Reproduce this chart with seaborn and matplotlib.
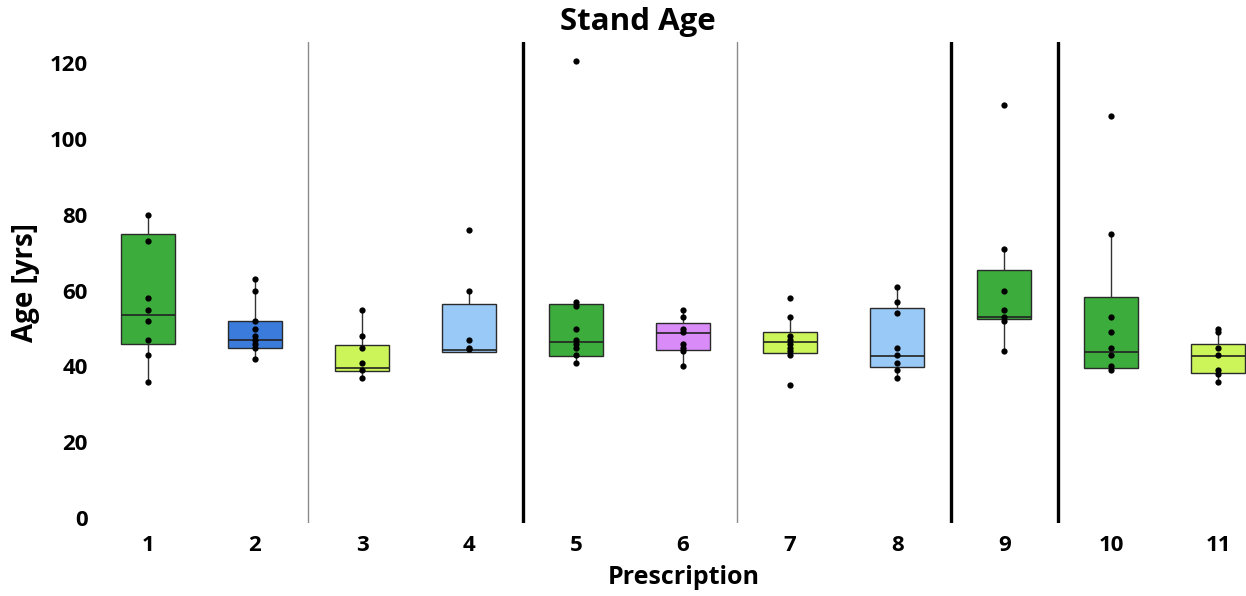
"""Stand Age por prescricao: boxplots com pontos individuais."""

import matplotlib
matplotlib.use("Agg")
import matplotlib.pyplot as plt
import pandas as pd
import seaborn as sns

# Prescricoes (eixo x)
PRESCRIPTIONS = ["1", "2", "3", "4", "5", "6", "7", "8", "9", "10", "11"]

# Idades individuais, uma lista por prescricao
AGES = [
    [80, 73, 58, 55, 52, 47, 43, 36],
    [63, 60, 52, 50, 48, 47, 46, 45, 42],
    [55, 48, 45, 41, 39, 37],
    [76, 60, 47, 45, 44.5],
    [120.5, 57, 56, 50, 47, 46, 45, 43, 41],
    [55, 53, 50, 49, 46, 45, 44, 40],
    [58, 53, 48, 47, 46, 45, 44, 43, 35],
    [61, 57, 54, 45, 43, 41, 39, 37],
    [109, 71, 60, 55, 53, 52, 44],
    [106, 75, 53, 49, 45, 43, 40, 39],
    [50, 49, 45, 43, 39, 38, 36],
]

# Estatisticas das caixas (quartis e bigodes como aparecem na figura)
Q1 = [45.8, 44.9, 38.8, 43.7, 42.8, 44.3, 43.6, 39.8, 52.4, 39.6, 38.4]
MEDIAN = [53.6, 46.9, 39.7, 44.3, 46.4, 48.9, 46.4, 42.8, 53.0, 43.8, 42.8]
Q3 = [74.9, 51.9, 45.6, 56.6, 56.4, 51.5, 49.2, 55.3, 65.4, 58.3, 45.8]
WHISK_LO = [36, 42, 37, 43.7, 41, 40, 42.8, 37, 44, 39.6, 36]
WHISK_HI = [80, 63, 55, 60, 57, 55, 53, 61, 71, 75, 50]

BOX_COLORS = [
    "#3cac3c", "#3a7bdb", "#ccf55a", "#99c9f7", "#3cac3c", "#d98bf7",
    "#ccf55a", "#99c9f7", "#3cac3c", "#3cac3c", "#ccf55a",
]

# Separadores entre grupos de prescricoes
THIN_SEPARATORS = [1.5, 5.5]
THICK_SEPARATORS = [3.5, 7.5, 8.5]

Y_TICKS = [0, 20, 40, 60, 80, 100, 120]

FONT = ["Open Sans", "DejaVu Sans"]


def main() -> None:
    sns.set_theme(style="white")
    plt.rcParams["font.family"] = FONT
    plt.rcParams["font.weight"] = "bold"
    plt.rcParams["text.color"] = "black"
    plt.rcParams["axes.labelcolor"] = "black"
    plt.rcParams["xtick.color"] = "black"
    plt.rcParams["ytick.color"] = "black"

    df = pd.DataFrame(
        [(p, a) for p, ages in zip(PRESCRIPTIONS, AGES) for a in ages],
        columns=["prescription", "age"],
    )

    fig = plt.figure(figsize=(12.46, 5.96), dpi=100)
    ax = fig.add_axes([0.0758, 0.1225, 0.9242, 0.807])

    stats = [
        {"q1": q1, "med": med, "q3": q3, "whislo": lo, "whishi": hi, "fliers": []}
        for q1, med, q3, lo, hi in zip(Q1, MEDIAN, Q3, WHISK_LO, WHISK_HI)
    ]
    bp = ax.bxp(
        stats,
        positions=range(len(PRESCRIPTIONS)),
        widths=0.5,
        patch_artist=True,
        showcaps=False,
        manage_ticks=False,
        boxprops={"edgecolor": "#2a2a2a", "linewidth": 1.0},
        medianprops={"color": "#222222", "linewidth": 1.2},
        whiskerprops={"color": "#333333", "linewidth": 1.0},
        zorder=2,
    )
    for patch, color in zip(bp["boxes"], BOX_COLORS):
        patch.set_facecolor(color)

    sns.stripplot(
        data=df,
        x="prescription",
        y="age",
        order=PRESCRIPTIONS,
        jitter=False,
        color="black",
        size=4.5,
        zorder=3,
        ax=ax,
    )

    for xpos in THIN_SEPARATORS:
        ax.axvline(xpos, color="#8a8a8a", linewidth=1.0, zorder=1)
    for xpos in THICK_SEPARATORS:
        ax.axvline(xpos, color="black", linewidth=2.4, zorder=1)

    ax.set_xlim(-0.5, 10.26)
    ax.set_ylim(-1.3, 125.6)
    ax.set_yticks(Y_TICKS)
    ax.tick_params(axis="both", length=0, labelsize=16)
    ax.tick_params(axis="x", pad=9)
    ax.tick_params(axis="y", pad=5)
    for lbl in ax.get_xticklabels() + ax.get_yticklabels():
        lbl.set_fontweight("bold")
    sns.despine(ax=ax, left=True, bottom=True)

    ax.set_xlabel("Prescription", fontsize=18, fontweight="bold")
    ax.set_ylabel("Age [yrs]", fontsize=20, fontweight="bold")
    ax.xaxis.set_label_coords(0.5115, -0.088)
    ax.yaxis.set_label_coords(-0.047, 0.5)
    fig.text(0.512, 0.963, "Stand Age", ha="center", va="center",
             fontsize=22.5, fontweight="bold")

    fig.savefig("out.png", dpi=100)
    plt.close(fig)


if __name__ == "__main__":
    main()
